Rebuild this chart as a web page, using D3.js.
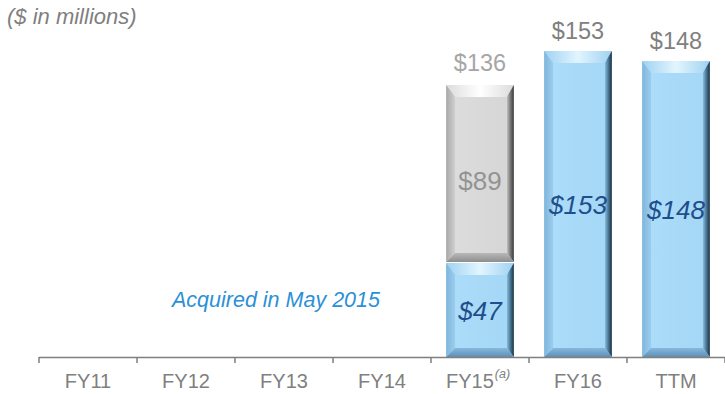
<!DOCTYPE html>
<html>
<head>
<meta charset="utf-8">
<script src="https://cdn.jsdelivr.net/npm/d3@7"></script>
<style>
  html, body { margin: 0; padding: 0; background: #fff; }
  svg { display: block; font-family: "Liberation Sans", Arial, sans-serif; }
</style>
</head>
<body>
<svg id="chart" width="725" height="394"></svg>
<script>
// Fiscal periods on the x axis
const categories = ["FY11", "FY12", "FY13", "FY14", "FY15", "FY16", "TTM"];
// Revenue after acquisition (blue segment), $ millions
const ownedValues = [0, 0, 0, 0, 47, 153, 148];
// Revenue prior to acquisition (grey segment), $ millions
const priorValues = [0, 0, 0, 0, 89, 0, 0];
// Period totals shown above each bar
const totalValues = [0, 0, 0, 0, 136, 153, 148];

const svg = d3.select("#chart");
const baseY = 357;

const x = d3.scaleBand()
  .domain(categories)
  .range([39, 725])
  .paddingInner(0.31)
  .paddingOuter(0.155);

const y = d3.scaleLinear().domain([0, 153]).range([baseY, baseY - 306]);

// Gradients for the bevelled faces
const defs = svg.append("defs");
function grad(id, dir, stops) {
  const g = defs.append("linearGradient").attr("id", id)
    .attr("x1", dir[0]).attr("y1", dir[1]).attr("x2", dir[2]).attr("y2", dir[3]);
  stops.forEach(s => g.append("stop").attr("offset", s[0]).attr("stop-color", s[1]));
}
const palettes = {
  blue: {
    face: [["0", "#abddfa"], ["1", "#a5d7f6"]],
    top: [["0", "#9fd2f2"], ["0.5", "#e2f5fe"], ["1", "#9fd2f2"]],
    left: [["0", "#7fb6dc"], ["1", "#9ccdee"]],
    right: [["0", "#8cbfdf"], ["0.5", "#4a7898"], ["1", "#1a2f3f"]],
    bottom: [["0", "#86b9dc"], ["1", "#5e90b6"]]
  },
  grey: {
    face: [["0", "#dcdcdc"], ["1", "#d6d6d6"]],
    top: [["0", "#dcdcdc"], ["0.5", "#ffffff"], ["1", "#dcdcdc"]],
    left: [["0", "#a9a9a9"], ["1", "#d0d0d0"]],
    right: [["0", "#c4c4c4"], ["0.5", "#7a7a7a"], ["1", "#3a3a3a"]],
    bottom: [["0", "#b8b8b8"], ["1", "#8e8e8e"]]
  }
};
Object.entries(palettes).forEach(([k, p]) => {
  grad(k + "-face", ["0", "0", "1", "0"], p.face);
  grad(k + "-top", ["0", "0", "1", "0"], p.top);
  grad(k + "-left", ["0", "0", "1", "0"], p.left);
  grad(k + "-right", ["0", "0", "1", "0"], p.right);
  grad(k + "-bottom", ["0", "0", "0", "1"], p.bottom);
});

// Draws one bevelled block from yTop down to yBot
function bevelBlock(g, x0, w, yTop, yBot, pal) {
  const ins = 9, insTop = 12, insBot = 9, insR = 7;
  const x1 = x0 + w;
  const ix0 = x0 + ins, ix1 = x1 - insR;
  const iyT = yTop + insTop, iyB = yBot - insBot;
  const pts = a => a.map(p => p.join(",")).join(" ");
  g.append("rect").attr("x", x0).attr("y", yTop).attr("width", w).attr("height", yBot - yTop)
    .attr("fill", `url(#${pal}-face)`);
  g.append("polygon").attr("points", pts([[x0, yTop], [x1, yTop], [ix1, iyT], [ix0, iyT]]))
    .attr("fill", `url(#${pal}-top)`);
  g.append("polygon").attr("points", pts([[x0, yTop], [ix0, iyT], [ix0, iyB], [x0, yBot]]))
    .attr("fill", `url(#${pal}-left)`);
  g.append("polygon").attr("points", pts([[x1, yTop], [x1, yBot], [ix1, iyB], [ix1, iyT]]))
    .attr("fill", `url(#${pal}-right)`);
  g.append("polygon").attr("points", pts([[x0, yBot], [ix0, iyB], [ix1, iyB], [x1, yBot]]))
    .attr("fill", `url(#${pal}-bottom)`);
  g.append("rect").attr("x", ix0).attr("y", iyT).attr("width", ix1 - ix0).attr("height", Math.max(0, iyB - iyT))
    .attr("fill", `url(#${pal}-face)`);
}

const bars = svg.append("g");
categories.forEach((c, i) => {
  const x0 = x(c), w = x.bandwidth();
  if (ownedValues[i] > 0) {
    bevelBlock(bars, x0, w, y(ownedValues[i]), y(0), "blue");
  }
  if (priorValues[i] > 0) {
    bevelBlock(bars, x0, w, y(ownedValues[i] + priorValues[i]), y(ownedValues[i]) - 1, "grey");
  }
});

// Axis line and tick marks at band boundaries
const axis = svg.append("g");
const step = x.step();
axis.append("line").attr("x1", 39).attr("x2", 725).attr("y1", baseY + 0.5).attr("y2", baseY + 0.5)
  .attr("stroke", "#7f7f7f").attr("stroke-width", 1.5);
const tickXs = categories.map(c => x(c) - x.paddingInner() * step / 2);
tickXs.push(725);
tickXs.forEach(tx => {
  axis.append("line").attr("x1", tx).attr("x2", tx).attr("y1", baseY).attr("y2", baseY + 6)
    .attr("stroke", "#7f7f7f").attr("stroke-width", 1.5);
});

// Category labels
categories.forEach(c => {
  const t = axis.append("text")
    .attr("x", x(c) + x.bandwidth() / 2 + (c === "FY15" ? -2 : 0))
    .attr("y", 388)
    .attr("text-anchor", "middle")
    .attr("font-size", 20)
    .attr("fill", "#808080")
    .text(c);
  if (c === "FY15") {
    t.append("tspan").attr("dy", -10).attr("dx", 1).attr("font-size", 12.5).attr("font-style", "italic").text("(a)");
  }
});

// Total labels above bars
const labels = svg.append("g");
categories.forEach((c, i) => {
  if (!totalValues[i]) return;
  labels.append("text")
    .attr("x", x(c) + x.bandwidth() / 2)
    .attr("y", y(totalValues[i]) - (priorValues[i] > 0 ? 14 : 12.5))
    .attr("text-anchor", "middle")
    .attr("font-size", 23.5)
    .attr("fill", priorValues[i] > 0 ? "#a6a6a6" : "#808080")
    .text("$" + totalValues[i]);
});

// Segment labels inside bars
categories.forEach((c, i) => {
  const cx = x(c) + x.bandwidth() / 2;
  if (ownedValues[i] > 0) {
    labels.append("text")
      .attr("x", cx)
      .attr("y", (y(ownedValues[i]) + y(0)) / 2 + 10)
      .attr("text-anchor", "middle")
      .attr("font-size", 26)
      .attr("font-style", "italic")
      .attr("fill", "#1f4e8c")
      .text("$" + ownedValues[i]);
  }
  if (priorValues[i] > 0) {
    labels.append("text")
      .attr("x", cx)
      .attr("y", (y(ownedValues[i] + priorValues[i]) + y(ownedValues[i])) / 2 + 16)
      .attr("text-anchor", "middle")
      .attr("font-size", 26)
      .attr("fill", "#939393")
      .text("$" + priorValues[i]);
  }
});

// Units note and acquisition annotation
svg.append("text").attr("x", 7).attr("y", 24)
  .attr("font-size", 22).attr("font-style", "italic").attr("fill", "#7f7f7f")
  .text("($ in millions)");
svg.append("text").attr("x", 276).attr("y", 307)
  .attr("text-anchor", "middle")
  .attr("font-size", 21.5).attr("font-style", "italic").attr("fill", "#2a91d6")
  .text("Acquired in May 2015");
</script>
</body>
</html>
